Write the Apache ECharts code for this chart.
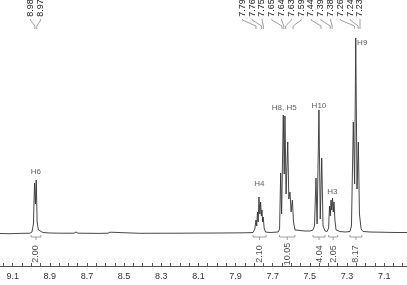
<!DOCTYPE html>
<html>
<head>
<meta charset="utf-8">
<script src="https://cdn.jsdelivr.net/npm/echarts@6/dist/echarts.min.js"></script>
<style>
  html, body { margin: 0; padding: 0; background: #fff; }
  #chart { width: 407px; height: 285px; }
</style>
</head>
<body>
<div id="chart"></div>
<script>
// 1H NMR trace: [ppm, intensity]
var spectrum = [
  [9.168, 0.5], [9.115, 0.3], [9.061, 0.6], [9.007, 0.8], [8.996, 2], [8.988, 10],
  [8.982, 51], [8.977, 30], [8.973, 54], [8.968, 12], [8.961, 4], [8.953, 2],
  [8.937, 1.5], [8.899, 1], [8.845, 0.8], [8.770, 0.8], [8.759, 2], [8.748, 0.8],
  [8.630, 0.6], [8.587, 0.8], [8.576, 1.8], [8.566, 0.8], [8.415, 0.7], [8.199, 0.8],
  [7.984, 1], [7.849, 1.2], [7.806, 1.5], [7.796, 5], [7.790, 14], [7.786, 8],
  [7.782, 22], [7.778, 12], [7.774, 37], [7.769, 20], [7.765, 32], [7.761, 18],
  [7.758, 24], [7.754, 12], [7.751, 17], [7.746, 6], [7.739, 2], [7.714, 1.5],
  [7.671, 2], [7.663, 5], [7.657, 61], [7.652, 20], [7.643, 119], [7.638, 60],
  [7.634, 118], [7.628, 40], [7.619, 92], [7.613, 35], [7.607, 42], [7.601, 22],
  [7.594, 34], [7.588, 12], [7.580, 4], [7.553, 3.5], [7.526, 3], [7.499, 3],
  [7.483, 4], [7.475, 8], [7.467, 56], [7.461, 10], [7.451, 124], [7.444, 15],
  [7.436, 76], [7.429, 8], [7.418, 3], [7.407, 2.5], [7.399, 6], [7.394, 28],
  [7.390, 18], [7.386, 34], [7.382, 24], [7.378, 36], [7.374, 22], [7.370, 32],
  [7.365, 14], [7.359, 4], [7.337, 2.5], [7.310, 2], [7.284, 2.5], [7.276, 8],
  [7.266, 112], [7.259, 50], [7.253, 196], [7.246, 45], [7.239, 92], [7.233, 20],
  [7.224, 5], [7.214, 2.5], [7.176, 2], [7.122, 1.8], [7.041, 1.5], [6.977, 1.5]
];

// picked peaks, one list per cluster
var peaksLeft = [8.98, 8.97];
var peaksRight = [7.79, 7.76, 7.75, 7.65, 7.64, 7.63, 7.59, 7.44, 7.39, 7.38, 7.26, 7.24, 7.23];

// assignments and where their captions sit
var assignNames = ['H6', 'H4', 'H8, H5', 'H10', 'H3', 'H9'];
var assignAt = [[8.975, 62], [7.772, 50], [7.638, 126], [7.451, 128], [7.379, 42], [7.218, 191]];

// integration regions and values
var integralRanges = [[9.001, 8.948], [7.806, 7.735], [7.663, 7.580], [7.483, 7.418], [7.399, 7.350], [7.284, 7.220]];
var integralValues = ['2.00', '2.10', '10.05', '4.04', '2.05', '8.17'];

var tickLabels = [9.1, 8.9, 8.7, 8.5, 8.3, 8.1, 7.9, 7.7, 7.5, 7.3, 7.1];
var tickMarks = [];
for (var t = 700; t <= 915; t += 5) tickMarks.push(t / 100);

var FONT = '"Liberation Sans", Arial, sans-serif';

var chart = echarts.init(document.getElementById('chart'));

var option = {
  animation: false,
  backgroundColor: '#ffffff',
  grid: { left: 0, right: 0, top: 0, bottom: 19, outerBoundsMode: 'none', containLabel: false },
  xAxis: {
    type: 'value',
    inverse: true,
    min: 6.977,
    max: 9.168,
    name: '(ppm)',
    nameLocation: 'middle',
    nameGap: 14,
    nameTextStyle: { fontSize: 9, color: '#333', fontFamily: FONT },
    axisLine: { onZero: false, lineStyle: { color: '#555', width: 1 } },
    axisTick: { inside: true, length: 3, customValues: tickMarks, lineStyle: { color: '#555' } },
    axisLabel: {
      customValues: tickLabels,
      margin: 6,
      fontSize: 9,
      color: '#333',
      fontFamily: FONT,
      formatter: function (v) { return v.toFixed(1); }
    },
    splitLine: { show: false }
  },
  yAxis: {
    type: 'value',
    min: -32,
    max: 234,
    show: false
  },
  series: [
    {
      type: 'line',
      data: spectrum,
      showSymbol: false,
      symbol: 'none',
      lineStyle: { color: '#333', width: 0.9 },
      z: 3
    },
    {
      type: 'custom',
      data: integralRanges,
      clip: false,
      renderItem: function (params, api) {
        var a = api.coord([api.value(0), 0]);
        var b = api.coord([api.value(1), 0]);
        var y = a[1] + 3;
        var mid = (a[0] + b[0]) / 2;
        return {
          type: 'group',
          children: [
            { type: 'polyline', shape: { points: [[a[0], y - 2], [a[0], y], [b[0], y], [b[0], y - 2]] },
              style: { stroke: '#777', fill: null, lineWidth: 0.7 } },
            { type: 'line', shape: { x1: mid, y1: y, x2: mid, y2: y + 3 },
              style: { stroke: '#777', lineWidth: 0.7 } }
          ]
        };
      }
    },
    {
      type: 'scatter',
      symbolSize: 0,
      data: integralRanges.map(function (r, i) {
        return { value: [(r[0] + r[1]) / 2, -20], name: integralValues[i] };
      }),
      label: {
        show: true, position: 'inside', rotate: 90,
        formatter: '{b}', fontSize: 9, color: '#222', fontFamily: FONT
      }
    },
    {
      type: 'scatter',
      symbolSize: 0,
      data: assignAt.map(function (p, i) {
        return { value: p, name: assignNames[i] };
      }),
      label: {
        show: true, position: 'inside',
        formatter: '{b}', fontSize: 8, color: '#333', fontFamily: FONT
      }
    }
  ]
};
chart.setOption(option);

// peak-pick labels across the top, joined to their peaks by bent leader lines
function peakLabels(list, centerPx, step) {
  var out = [];
  var n = list.length;
  list.forEach(function (p, i) {
    var px = chart.convertToPixel({ xAxisIndex: 0 }, p);
    var lx = centerPx + (i - (n - 1) / 2) * step;
    out.push({
      type: 'text', x: lx, y: 8, rotation: Math.PI / 2,
      style: { text: p.toFixed(2), fontSize: 9, fill: '#222', fontFamily: FONT, align: 'center', verticalAlign: 'middle' }
    });
    out.push({
      type: 'polyline',
      shape: { points: [[lx, 19], [lx, 20], [px, 26], [px, 29]] },
      style: { stroke: '#777', fill: null, lineWidth: 0.7 }
    });
  });
  return out;
}

chart.setOption({
  graphic: peakLabels(peaksLeft, 35.5, 10.5).concat(peakLabels(peaksRight, 301.2, 9.8))
});
</script>
</body>
</html>
